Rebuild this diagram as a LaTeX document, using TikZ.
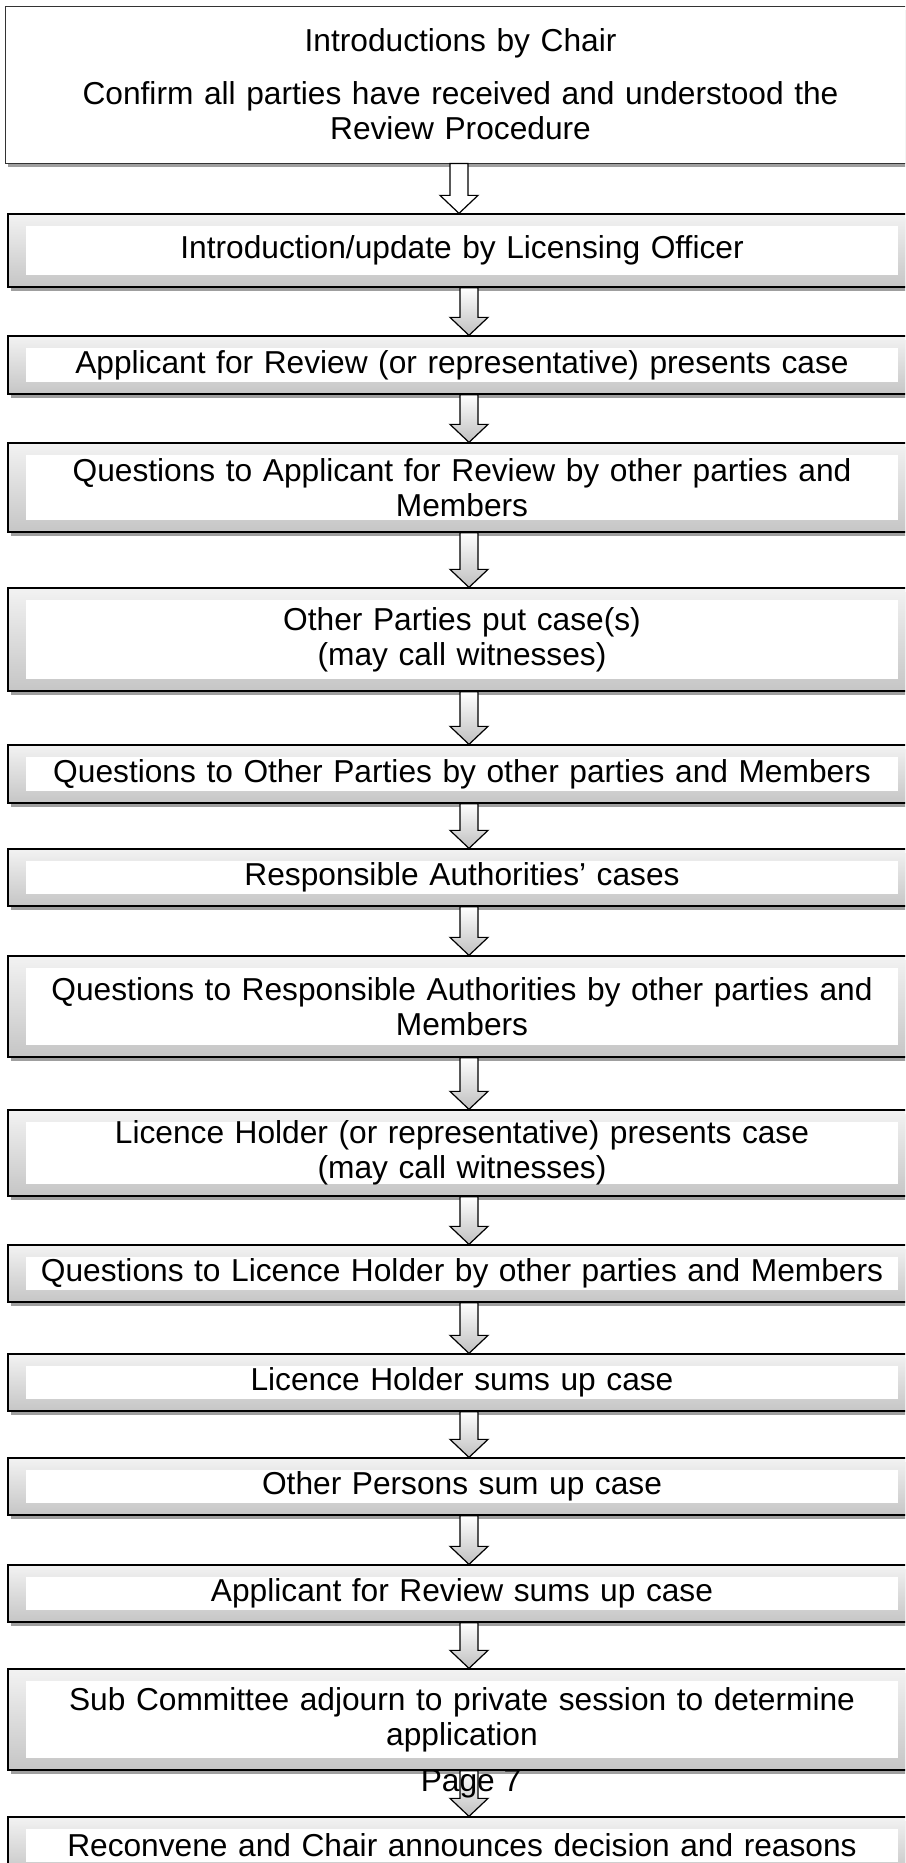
\documentclass[tikz,border=0pt]{standalone}
\usepackage{fontspec}
\setmainfont{Liberation Sans}
\usetikzlibrary{calc,shadows}

% block arrow between two boxes: [x offset]{from}{to}{style}
\newcommand{\flowarrow}[4][7pt]{%
  \draw[#4] let \p1=([xshift=#1]#2.south), \p2=([xshift=#1]#3.north) in
    (\x1-9pt,\y1) -- (\x1+9pt,\y1) -- (\x1+9pt,\y2+18pt) -- (\x1+19pt,\y2+18pt)
    -- (\x1,\y2) -- (\x1-19pt,\y2+18pt) -- (\x1-9pt,\y2+18pt) -- cycle;}

\begin{document}
\begin{tikzpicture}[x=1pt, y=-1pt,
    every node/.style={font=\fontsize{31.7}{35}\selectfont},
    stagebox/.style={draw=black, line width=1.3pt, top color=gray!10, bottom color=gray!45,
        minimum width=908pt, text width=880pt, align=center, inner sep=0pt,
        drop shadow={shadow xshift=3pt, shadow yshift=-4pt, fill=gray!75, opacity=1},
        path picture={\fill[white] ([xshift=18pt,yshift=-12pt]path picture bounding box.north west)
            rectangle ([xshift=-18pt,yshift=12pt]path picture bounding box.south east);}},
    introbox/.style={draw=black!80, line width=0.8pt, fill=white,
        minimum width=911pt, text width=880pt, align=center, inner sep=0pt,
        drop shadow={shadow xshift=3pt, shadow yshift=-4pt, fill=gray!75, opacity=1}},
    plainarrow/.style={draw=black, line width=1.2pt, fill=white},
    shadedarrow/.style={draw=black, line width=1.2pt, top color=white, bottom color=gray!50}]

\clip (0,0) rectangle (905,1863);
\fill[white] (0,0) rectangle (905,1863);

\node[introbox, minimum height=157pt] (intro) at (460.5,84.5)
    {Introductions by Chair\\[18pt]Confirm all parties have received and understood the\\Review Procedure};
\node[stagebox, minimum height=73pt] (officer) at (462,250.5) {Introduction/update by Licensing Officer};
\node[stagebox, minimum height=58pt] (appcase) at (462,365) {Applicant for Review (or representative) presents case};
\node[stagebox, minimum height=89pt] (appq) at (462,487.5) {Questions to Applicant for Review by other parties and\\Members};
\node[stagebox, minimum height=103pt] (othercase) at (462,639.5) {Other Parties put case(s)\\(may call witnesses)};
\node[stagebox, minimum height=58pt] (otherq) at (462,774) {Questions to Other Parties by other parties and Members};
\node[stagebox, minimum height=57pt] (authcase) at (462,877.5) {Responsible Authorities’ cases};
\node[stagebox, minimum height=101pt] (authq) at (462,1006.5) {Questions to Responsible Authorities by other parties and\\Members};
\node[stagebox, minimum height=86pt] (holdercase) at (462,1153) {Licence Holder (or representative) presents case\\(may call witnesses)};
\node[stagebox, minimum height=57pt] (holderq) at (462,1273.5) {Questions to Licence Holder by other parties and Members};
\node[stagebox, minimum height=57pt] (holdersum) at (462,1382.5) {Licence Holder sums up case};
\node[stagebox, minimum height=57pt] (othersum) at (462,1486.5) {Other Persons sum up case};
\node[stagebox, minimum height=57pt] (appsum) at (462,1593.5) {Applicant for Review sums up case};
\node[stagebox, minimum height=101pt] (adjourn) at (462,1719.5) {Sub Committee adjourn to private session to determine\\application};
\node[stagebox, minimum height=57pt] (decision) at (462,1845.5) {Reconvene and Chair announces decision and reasons};

\flowarrow[-1.5pt]{intro}{officer}{plainarrow}
\flowarrow{officer}{appcase}{shadedarrow}
\flowarrow{appcase}{appq}{shadedarrow}
\flowarrow{appq}{othercase}{shadedarrow}
\flowarrow{othercase}{otherq}{shadedarrow}
\flowarrow{otherq}{authcase}{shadedarrow}
\flowarrow{authcase}{authq}{shadedarrow}
\flowarrow{authq}{holdercase}{shadedarrow}
\flowarrow{holdercase}{holderq}{shadedarrow}
\flowarrow{holderq}{holdersum}{shadedarrow}
\flowarrow{holdersum}{othersum}{shadedarrow}
\flowarrow{othersum}{appsum}{shadedarrow}
\flowarrow{appsum}{adjourn}{shadedarrow}
\flowarrow{adjourn}{decision}{shadedarrow}

\node (page) at (471,1784) {Page 7};

\end{tikzpicture}
\end{document}
